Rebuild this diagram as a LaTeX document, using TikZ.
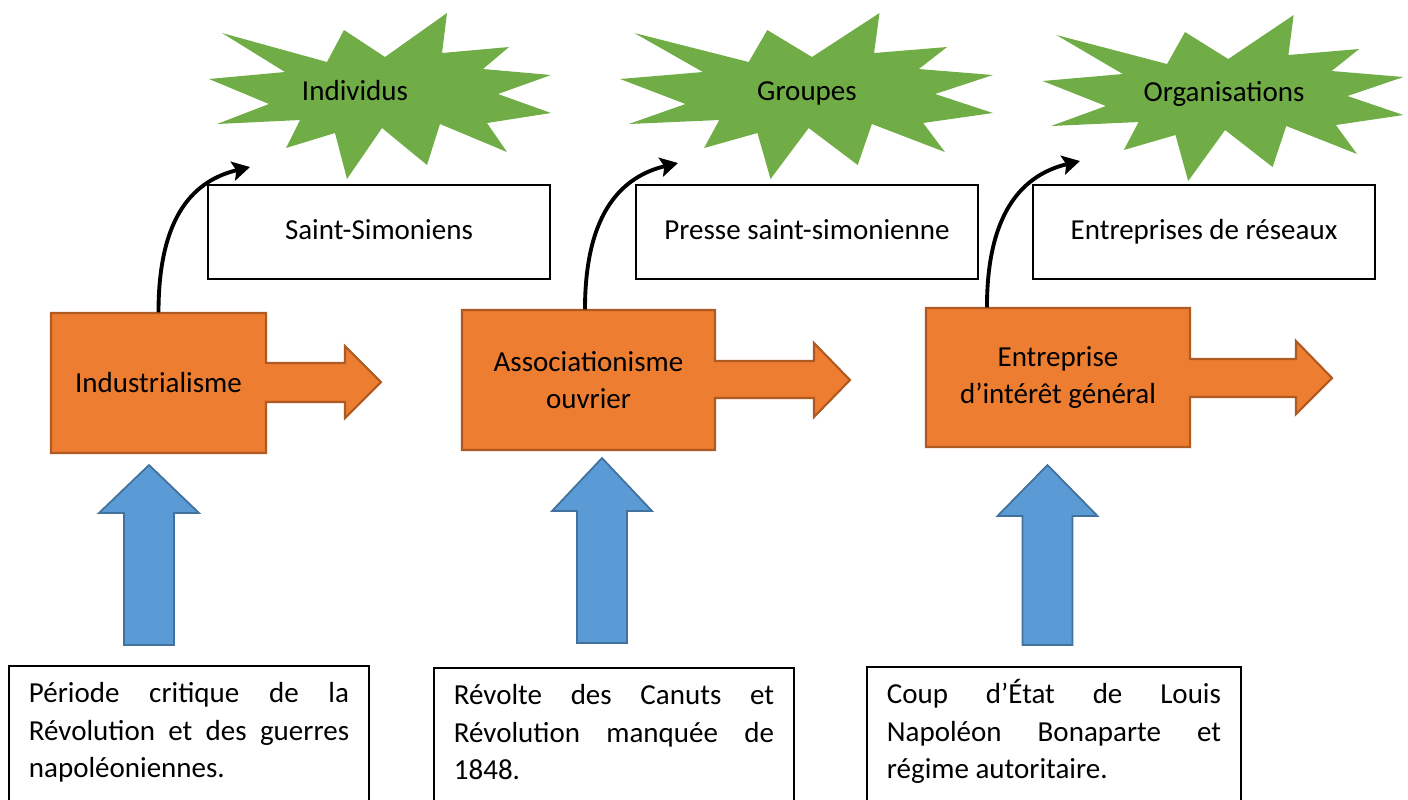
\documentclass[tikz,border=0pt]{standalone}
\usepackage{fontspec}
\setmainfont{Carlito}
\usetikzlibrary{arrows.meta}

\definecolor{burstgreen}{HTML}{70AD47}
\definecolor{boxorange}{HTML}{ED7D31}
\definecolor{edgeorange}{HTML}{AE5A21}
\definecolor{upblue}{HTML}{5B9BD5}
\definecolor{edgeblue}{HTML}{41719C}

\begin{document}
\begin{tikzpicture}[x=0.01cm, y=-0.01cm,
  every node/.style={font=\fontsize{8.25}{10.7}\selectfont, inner sep=0pt},
  oneline/.style={text height=6pt, text depth=2pt},
  burst/.style={fill=burstgreen},
  orangeshape/.style={fill=boxorange, draw=edgeorange, line width=0.6pt},
  upshape/.style={fill=upblue, draw=edgeblue, line width=0.5pt},
  namebox/.style={draw, oneline, line width=0.5pt, minimum width=3.42cm, minimum height=0.94cm},
  note/.style={draw, line width=0.5pt, anchor=north west, align=justify,
    inner xsep=0.2cm, inner ysep=0.12cm},
  bendarrow/.style={line width=1.1pt, -{Stealth[length=5pt,width=5.5pt,inset=1pt]}}]
\useasboundingbox (0,0) rectangle (1408,799);
\clip (0,0) rectangle (1408,799);

% explosions
\foreach \cx/\cy/\sx in {380/96/1, 806.5/96/1.09, 1223/98/1.055}
  \fill[burst, shift={(\cx,\cy)}, xscale=\sx] (-158,-63) -- (-53,-34) -- (-36,-66)
    -- (5,-39) -- (67,-83) -- (62,-43) -- (129,-49) -- (103,-27) -- (171,-21)
    -- (118,-2) -- (171,17) -- (107,27) -- (127,56) -- (60,28) -- (47,69)
    -- (2,32) -- (-33,83) -- (-45,37) -- (-94,52) -- (-80,24) -- (-163,28)
    -- (-111,8) -- (-171,-17) -- (-95,-24) -- cycle;
\node[oneline] (indiv) at (355,93) {Individus};
\node[oneline] (groupes) at (807,93) {Groupes};
\node[oneline] (orga) at (1224,94) {Organisations};

\node[namebox] (stsim) at (379,232) {Saint-Simoniens};
\node[namebox] (presse) at (807,232) {Presse saint-simonienne};
\node[namebox] (reseaux) at (1204,232) {Entreprises de réseaux};

% orange block arrows
\draw[orangeshape] (51,313) -| (266,363) -| (345,346) -- (381,382) -- (345,418) |- (266,402) |- (51,453) -- cycle;
\draw[orangeshape] (462,310) -| (715,361) -| (814,343) -- (850,380) -- (814,417) |- (715,398) |- (462,450) -- cycle;
\draw[orangeshape] (926,308) -| (1190,359) -| (1296,341) -- (1332,378) -- (1296,414) |- (1190,397) |- (926,447) -- cycle;
\node[minimum width=2.15cm, minimum height=1.40cm] (indus) at (158.5,383) {Industrialisme};
\node[align=center, minimum width=2.53cm, minimum height=1.40cm] (assoc) at (588.5,380) {Associationisme\\ouvrier};
\node[align=center, minimum width=2.64cm, minimum height=1.39cm] (entr) at (1058,377.5) {Entreprise\\d’intérêt général};

% curved arrows
\coordinate (tipA) at (250,167);
\coordinate (tipB) at (678,163);
\coordinate (tipC) at (1080,161);
\draw[bendarrow] (indus.north) .. controls (158.5,213) and (196,180) .. (tipA);
\draw[bendarrow] ([xshift=-0.035cm]assoc.north) .. controls (585,210) and (624,176) .. (tipB);
\draw[bendarrow] ([xshift=-0.71cm]entr.north) .. controls (987,208) and (1026,174) .. (tipC);

% blue up arrows
\foreach \ax/\tip/\base/\bot in {149/465/513/645, 602/458/511/643, 1047.5/465/516/645}
  \draw[upshape] ({\ax-25},\bot) -- ({\ax-25},\base) -- ({\ax-50},\base) -- (\ax,\tip)
    -- ({\ax+50},\base) -- ({\ax+25},\base) -- ({\ax+25},\bot) -- cycle;

\node[note, text width=3.2cm] (crit) at (8,665) {\noindent\rule{0pt}{7pt}Période critique de la\linebreak Révolution et des guerres\linebreak napoléoniennes.\par\noindent\rule{0pt}{1.2cm}};
\node[note, text width=3.2cm] (canuts) at (433,667) {\noindent\rule{0pt}{7pt}Révolte des Canuts et\linebreak Révolution manquée de\linebreak 1848.\par\noindent\rule{0pt}{1.2cm}};
\node[note, text width=3.34cm] (coup) at (866,666) {\noindent\rule{0pt}{7pt}Coup d’État de Louis\linebreak Napoléon Bonaparte et\linebreak régime autoritaire.\par\noindent\rule{0pt}{1.2cm}};
\end{tikzpicture}
\end{document}
